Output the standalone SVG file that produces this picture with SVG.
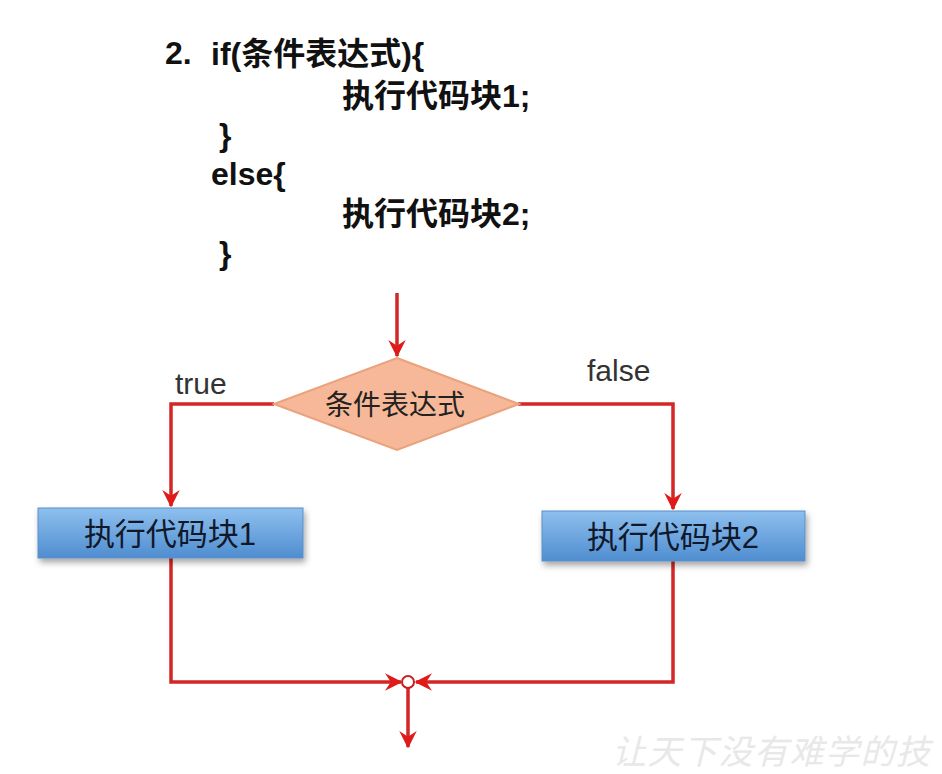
<svg xmlns="http://www.w3.org/2000/svg" width="942" height="774" viewBox="0 0 942 774">
<defs>
<style>
.code{font-family:"Liberation Sans","Noto Sans CJK SC",sans-serif;font-weight:bold;font-size:32px;fill:#111}
.lbl{font-family:"Liberation Sans","Noto Sans CJK SC",sans-serif;font-size:30px;fill:#333}
.box{stroke:#5a8fc8;stroke-width:1;fill:url(#blue)}
.boxt{font-family:"Liberation Sans","Noto Sans CJK SC",sans-serif;font-size:31px;fill:#10182a;text-anchor:middle}
.wire{fill:none;stroke:#d42626;stroke-width:3.5}
</style>
<linearGradient id="blue" x1="0" y1="0" x2="0" y2="1">
<stop offset="0" stop-color="#8ec0ee"/>
<stop offset="1" stop-color="#4f8dd0"/>
</linearGradient>
<filter id="sh" x="-5%" y="-20%" width="115%" height="160%">
<feDropShadow dx="2" dy="4" stdDeviation="3" flood-color="#000" flood-opacity="0.35"/>
</filter>
<marker id="ah" viewBox="0 0 12 12" refX="11" refY="6" markerWidth="5" markerHeight="5" orient="auto" markerUnits="strokeWidth">
<path d="M0,0 L12,6 L0,12 L4,6 Z" fill="#e01a1a"/>
</marker>
</defs>
<rect width="942" height="774" fill="#fff"/>
<g id="code">
<text class="code" x="165" y="64">2.</text>
<text class="code" x="211" y="65">if(条件表达式){</text>
<text class="code" x="342" y="107">执行代码块1;</text>
<text class="code" x="219" y="146">}</text>
<text class="code" x="211" y="185">else{</text>
<text class="code" x="342" y="225">执行代码块2;</text>
<text class="code" x="219" y="264">}</text>
</g>
<g id="connectors">
<line class="wire" x1="397" y1="293" x2="397" y2="356" marker-end="url(#ah)"/>
<polyline class="wire" points="274,404 171,404 171,506" marker-end="url(#ah)"/>
<polyline class="wire" points="518,404 673,404 673,509" marker-end="url(#ah)"/>
<polyline class="wire" points="171,558 171,682 401,682" marker-end="url(#ah)"/>
<polyline class="wire" points="673,561 673,682 416,682" marker-end="url(#ah)"/>
<line class="wire" x1="408" y1="688" x2="408" y2="747" marker-end="url(#ah)"/>
<circle cx="408" cy="682" r="6" fill="#fff" stroke="#c82020" stroke-width="2"/>
<text class="lbl" x="175" y="394">true</text>
<text class="lbl" x="587" y="381">false</text>
</g>
<g id="cond">
<polygon points="397,358 519,404 397,450 274,404" fill="#f6b898" stroke="#eaa27c" stroke-width="2"/>
<text x="395" y="415" font-family="Liberation Sans,Noto Sans CJK SC,sans-serif" font-size="28" fill="#222" text-anchor="middle">条件表达式</text>
</g>
<g id="block1">
<rect class="box" x="38" y="508" width="265" height="50" filter="url(#sh)"/>
<text class="boxt" x="170" y="545">执行代码块1</text>
</g>
<g id="block2">
<rect class="box" x="542" y="511" width="263" height="50" filter="url(#sh)"/>
<text class="boxt" x="673" y="548">执行代码块2</text>
</g>
<text x="612" y="764" font-family="Noto Sans CJK SC,sans-serif" font-size="34" letter-spacing="1.5" fill="#e8e8e8" font-style="italic">让天下没有难学的技</text>
</svg>
